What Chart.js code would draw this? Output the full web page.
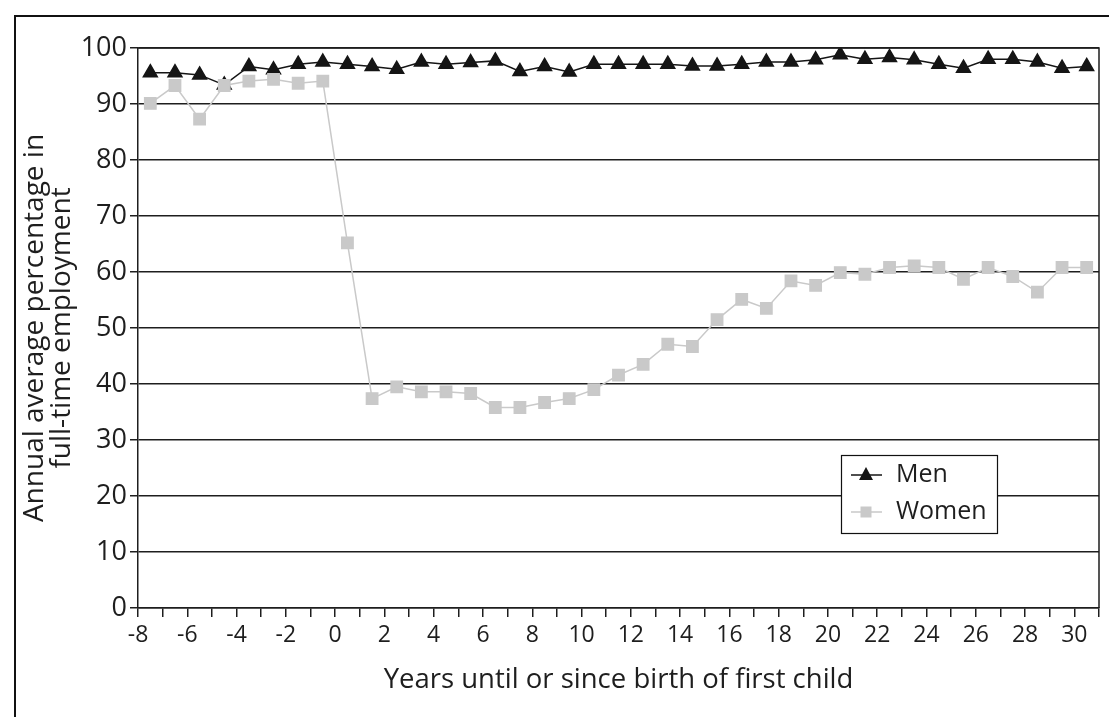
<!DOCTYPE html>
<html>
<head>
<meta charset="utf-8">
<script src="https://cdn.jsdelivr.net/npm/chart.js@4.4.1/dist/chart.umd.min.js"></script>
<style>
  html, body { margin: 0; padding: 0; background: #fff; overflow: hidden; }
  #wrap { position: relative; width: 1109px; height: 717px; }
  #frame { position: absolute; left: 14px; top: 15px; width: 1200px; height: 800px;
           border-top: 2px solid #111; border-left: 2px solid #111; }
  canvas { position: absolute; left: 0; top: 0; }
</style>
</head>
<body>
<div id="wrap">
  <div id="frame"></div>
  <canvas id="chart" width="1109" height="717"></canvas>
</div>
<script>
// years relative to first birth (each point sits in the middle of its year)
const years = [-8, -7, -6, -5, -4, -3, -2, -1, 0, 1, 2, 3, 4, 5, 6, 7, 8, 9, 10, 11,
  12, 13, 14, 15, 16, 17, 18, 19, 20, 21, 22, 23, 24, 25, 26, 27, 28, 29, 30];

const men = [95.6, 95.6, 95.2, 93.4, 96.7, 96.1, 97.1, 97.5, 97.1, 96.7, 96.2, 97.5, 97.1,
  97.4, 97.7, 95.8, 96.7, 95.7, 97.1, 97.1, 97.1, 97.1, 96.8, 96.8, 97.1, 97.5,
  97.5, 97.9, 98.8, 98.0, 98.3, 97.9, 97.1, 96.4, 98.0, 98.0, 97.5, 96.4, 96.7];

const women = [90.1, 93.3, 87.3, 93.3, 94.1, 94.4, 93.7, 94.1, 65.2, 37.4, 39.5, 38.6, 38.6,
  38.3, 35.8, 35.8, 36.7, 37.4, 39.0, 41.6, 43.5, 47.1, 46.7, 51.5, 55.1, 53.5,
  58.4, 57.6, 59.9, 59.6, 60.8, 61.1, 60.8, 58.7, 60.8, 59.2, 56.4, 60.8, 60.8];

const xTickLabels = [-8, -6, -4, -2, 0, 2, 4, 6, 8, 10, 12, 14, 16, 18, 20, 22, 24, 26, 28, 30];
const yTicks = [0, 10, 20, 30, 40, 50, 60, 70, 80, 90, 100];

const FONT = "'Open Sans', 'DejaVu Sans', sans-serif";
const INK = "#1e1e1e";
const MEN_COL = "#151515";
const WOMEN_COL = "#c9c9c9";

const toPoints = (vals) => vals.map((v, i) => ({ x: years[i] + 0.5, y: v }));

// kotak border plot + legend di dalam area plot
const extras = {
  id: "extras",
  afterDraw(chart) {
    const { ctx, chartArea } = chart;
    ctx.save();
    ctx.strokeStyle = INK;
    ctx.lineWidth = 1.5;
    ctx.beginPath();
    ctx.moveTo(chartArea.left, chartArea.top);
    ctx.lineTo(chartArea.right, chartArea.top);
    ctx.lineTo(chartArea.right, chartArea.bottom);
    ctx.stroke();

    const bx = chartArea.left + 703, by = chartArea.top + 407, bw = 156, bh = 78;
    ctx.fillStyle = "#fff";
    ctx.fillRect(bx, by, bw, bh);
    ctx.lineWidth = 1.2;
    ctx.strokeStyle = "#111";
    ctx.strokeRect(bx + 0.5, by + 0.5, bw, bh);

    chart.data.datasets.forEach((ds, i) => {
      const cy = by + 20 + i * 37;
      const cx = bx + 25;
      ctx.strokeStyle = ds.borderColor;
      ctx.lineWidth = 1.5;
      ctx.beginPath();
      ctx.moveTo(bx + 10, cy);
      ctx.lineTo(bx + 41, cy);
      ctx.stroke();
      ctx.fillStyle = ds.pointBackgroundColor;
      ctx.beginPath();
      if (ds.pointStyle === "triangle") {
        ctx.moveTo(cx, cy - 8);
        ctx.lineTo(cx + 7, cy + 5);
        ctx.lineTo(cx - 7, cy + 5);
        ctx.closePath();
      } else {
        ctx.rect(cx - 5.5, cy - 5.5, 11, 11);
      }
      ctx.fill();
      ctx.fillStyle = INK;
      ctx.font = "25px " + FONT;
      ctx.textBaseline = "middle";
      ctx.fillText(ds.label, bx + 55, cy);
    });
    ctx.restore();
  },
};

new Chart(document.getElementById("chart"), {
  type: "line",
  data: {
    datasets: [
      {
        label: "Men",
        data: toPoints(men),
        borderColor: MEN_COL,
        backgroundColor: MEN_COL,
        pointBackgroundColor: MEN_COL,
        pointBorderColor: MEN_COL,
        pointStyle: "triangle",
        pointRadius: 8,
        borderWidth: 1.5,
        order: 2,
      },
      {
        label: "Women",
        data: toPoints(women),
        borderColor: WOMEN_COL,
        backgroundColor: WOMEN_COL,
        pointBackgroundColor: WOMEN_COL,
        pointBorderColor: WOMEN_COL,
        pointStyle: "rect",
        pointRadius: 8,
        borderWidth: 1.5,
        order: 1,
      },
    ],
  },
  options: {
    responsive: false,
    animation: false,
    layout: { padding: { left: 0, top: 48, right: 10, bottom: 0 } },
    plugins: { legend: { display: false }, tooltip: { enabled: false } },
    scales: {
      x: {
        type: "linear",
        min: -8,
        max: 31,
        afterFit: (s) => { s.height = 109; },
        afterBuildTicks: (s) => {
          const t = [];
          for (let v = -8; v <= 31; v++) t.push({ value: v });
          s.ticks = t;
        },
        ticks: {
          autoSkip: false,
          maxRotation: 0,
          padding: 5,
          color: INK,
          font: { family: FONT, size: 23 },
          callback: (v) => (xTickLabels.includes(v) ? String(v) : ""),
        },
        grid: { drawOnChartArea: false, color: INK, tickLength: 9, lineWidth: 1.5 },
        border: { color: INK, width: 1.5 },
        title: {
          display: true,
          text: "Years until or since birth of first child",
          color: INK,
          font: { family: FONT, size: 27.5 },
          padding: { top: 0, bottom: 20 },
        },
      },
      y: {
        min: 0,
        max: 100,
        afterFit: (s) => { s.width = 138; },
        afterBuildTicks: (s) => { s.ticks = yTicks.map((v) => ({ value: v })); },
        ticks: {
          padding: 3,
          color: INK,
          font: { family: FONT, size: 27 },
        },
        grid: { color: INK, lineWidth: 1.5, tickLength: 8 },
        border: { color: INK, width: 1.5 },
        title: {
          display: true,
          text: ["Annual average percentage in", "full-time employment"],
          color: INK,
          font: { family: FONT, size: 28, lineHeight: 0.95 },
          padding: { top: 22, bottom: 0 },
        },
      },
    },
  },
  plugins: [extras],
});
</script>
</body>
</html>
